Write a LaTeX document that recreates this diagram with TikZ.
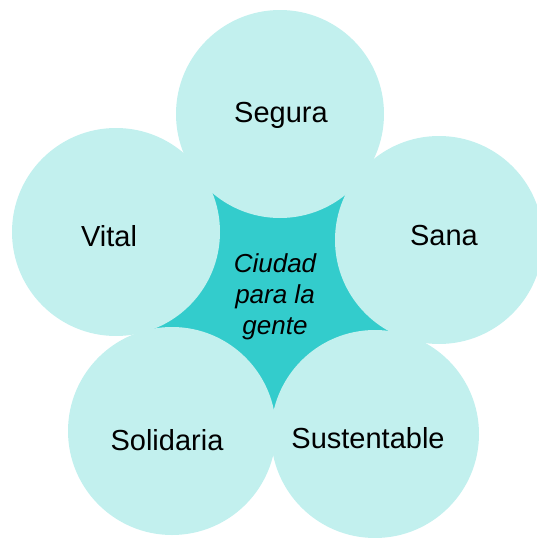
\documentclass[tikz,border=0pt]{standalone}
\usepackage{fontspec}
\setmainfont{Liberation Sans}
\usetikzlibrary{calc}
\definecolor{hellcyan}{RGB}{194,240,238}
\definecolor{dunkelcyan}{RGB}{51,204,204}

\begin{document}
\begin{tikzpicture}[x=1pt,y=-1pt,
        kreis/.style={fill=hellcyan},
        wort/.style={inner sep=0pt, font=\fontsize{29}{34}\selectfont},
        mitte/.style={align=center, inner sep=0pt,
            font=\fontsize{26}{31}\selectfont\itshape}]
            \useasboundingbox (0,0) rectangle (537,538);
            % Mittelpunkte der Kreise:
            \coordinate (segura) at (280,114);
            \coordinate (sana) at (439,240);
            \coordinate (sustentable) at (375,434);
            \coordinate (solidaria) at (172,431);
            \coordinate (vital) at (116,232);
            % Stern in der Mitte:
            \fill[dunkelcyan] ($(segura)!0.5!(sana)$)
                -- ($(sana)!0.5!(sustentable)$)
                -- ($(sustentable)!0.5!(solidaria)$)
                -- ($(solidaria)!0.5!(vital)$)
                -- ($(vital)!0.5!(segura)$) -- cycle;
            % Kreise aussen:
            \foreach \name in {segura, sana, sustentable, solidaria, vital}
                \fill[kreis] (\name) circle[radius=104];
            % Texte:
            \node[wort] (t-segura) at (281,115) {Segura};
            \node[wort] (t-sana) at (444,236) {Sana};
            \node[wort] (t-sustentable) at (368,438) {Sustentable};
            \node[wort] (t-solidaria) at (167,440) {Solidaria};
            \node[wort] (t-vital) at (109,236) {Vital};
            \node[mitte] (ciudad) at (275,297) {Ciudad\\para la\\gente};
\end{tikzpicture}
\end{document}
